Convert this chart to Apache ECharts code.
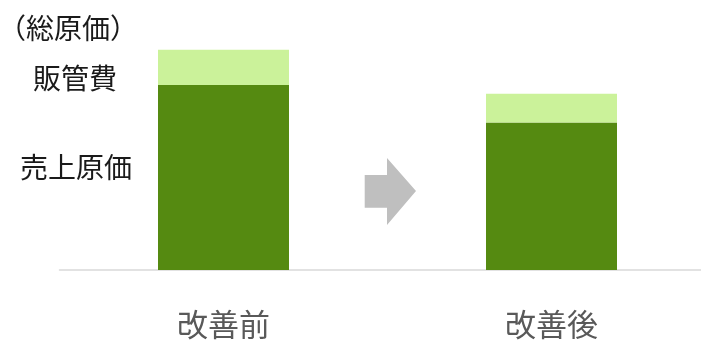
<!DOCTYPE html>
<html><head><meta charset="utf-8">
<script src="https://cdn.jsdelivr.net/npm/echarts@6/dist/echarts.min.js"></script>
<style>html,body{margin:0;padding:0;background:#fff;overflow:hidden;width:701px;height:340px}#c{width:720px;height:340px}</style>
</head><body><div id="c"></div>
<script>
const categories = ['改善前', '改善後'];
const costOfSales = [84, 67];   // 売上原価
const sgaExpenses = [16, 13];   // 販管費
const seriesNames = ['売上原価', '販管費'];
const FONT = '"Noto Sans CJK JP", "Noto Sans", sans-serif';

const chart = echarts.init(document.getElementById('c'));
chart.setOption({
  animation: false,
  grid: { left: 59.5, top: 27.75, width: 656, height: 244.75, containLabel: false },
  xAxis: {
    type: 'category', data: categories,
    axisLine: { lineStyle: { color: '#D9D9D9', width: 1.5 } },
    axisTick: { show: false },
    axisLabel: { fontSize: 31, color: '#595959', margin: 39, fontFamily: FONT }
  },
  yAxis: { type: 'value', min: 0, max: 110, show: false, splitLine: { show: false } },
  series: [
    { name: seriesNames[0], type: 'bar', stack: 't', data: costOfSales, barWidth: 131,
      itemStyle: { color: '#558A11' } },
    { name: seriesNames[1], type: 'bar', stack: 't', data: sgaExpenses, barWidth: 131,
      itemStyle: { color: '#CBF29A' } }
  ],
  graphic: [
    { type: 'text', left: -2, top: 14, style: { text: '（総原価）', font: '28px ' + FONT, fill: '#1a1a1a' } },
    { type: 'text', x: 75, y: 78, style: { text: seriesNames[1], font: '28px ' + FONT, fill: '#1a1a1a', align: 'center', verticalAlign: 'middle' } },
    { type: 'text', x: 76, y: 167, style: { text: seriesNames[0], font: '28px ' + FONT, fill: '#1a1a1a', align: 'center', verticalAlign: 'middle' } },
    { type: 'polygon', shape: { points: [[364.7,175],[387,175],[387,158],[416,191],[387,225],[387,207.7],[364.7,207.7]] },
      style: { fill: '#BFBFBF' } }
  ]
});
</script></body></html>
